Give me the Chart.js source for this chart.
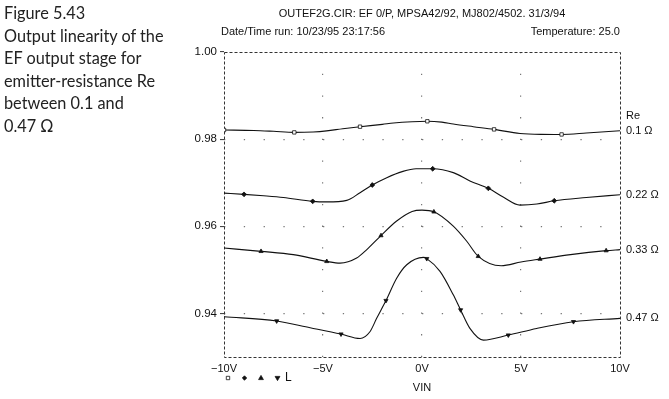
<!DOCTYPE html>
<html>
<head>
<meta charset="utf-8">
<script src="https://cdn.jsdelivr.net/npm/chart.js@4.4.0/dist/chart.umd.min.js"></script>
<style>
html, body { margin: 0; padding: 0; background: #fff; }
#wrap { position: relative; width: 669px; height: 399px; overflow: hidden; }
#c { position: absolute; left: 0; top: 0; }
#caption { position: absolute; left: 4px; top: 2px; font-family: Lato, "Noto Sans", sans-serif; font-size: 16.3px; line-height: 22.6px; color: #222; }
.hdr { position: absolute; font-family: "Liberation Sans", Arial, sans-serif; font-size: 11px; color: #111; white-space: nowrap; }
</style>
</head>
<body>
<div id="wrap">
<canvas id="c" width="669" height="399"></canvas>
<div id="caption">Figure 5.43<br>Output linearity of the<br>EF output stage for<br>emitter-resistance Re<br>between 0.1 and<br>0.47 Ω</div>
<div class="hdr" style="left:222px;width:400px;top:7px;text-align:center">OUTEF2G.CIR: EF 0/P, MPSA42/92, MJ802/4502. 31/3/94</div>
<div class="hdr" style="left:221px;top:25px">Date/Time run: 10/23/95 23:17:56</div>
<div class="hdr" style="right:49px;top:25px">Temperature: 25.0</div>
</div>
<script>
// values (VIN in volts, output gain)
const reLabels = ['0.1 Ω', '0.22 Ω', '0.33 Ω', '0.47 Ω'];

const vin01 = [-10, -8.5, -7.5, -6.45, -5.5, -4.82, -4, -3.13, -2, -1.44, -0.5, 0.27, 1, 1.58, 2.59, 3.64, 4.95, 6, 7.05, 8.3, 10];
const gain01 = [0.9821, 0.9820, 0.9818, 0.98155, 0.98165, 0.9819, 0.9824, 0.98286, 0.9834, 0.98371, 0.9840, 0.9841, 0.9839, 0.98348, 0.98286, 0.98224, 0.9813, 0.9811, 0.98108, 0.9814, 0.98194];
const marks01 = [-10, -6.45, -3.13, 0.27, 3.64, 7.05];

const vin022 = [-10, -8.99, -8, -7, -5.52, -4.8, -3.8, -3.13, -2.51, -1.78, -1, -0.3, 0.54, 1.58, 2.42, 3.35, 4.1, 4.95, 5.8, 6.68, 8.3, 10];
const gain022 = [0.9676, 0.96733, 0.9670, 0.9666, 0.96572, 0.9656, 0.96595, 0.9677, 0.96948, 0.97116, 0.97255, 0.9732, 0.9732, 0.97232, 0.9704, 0.96871, 0.9667, 0.96486, 0.9651, 0.96586, 0.9666, 0.96724];
const marks022 = [-8.99, -5.52, -2.51, 0.54, 3.35, 6.68];

const vin033 = [-10, -8.13, -6.5, -4.81, -4.14, -3.3, -2.8, -2.07, -1.28, -0.5, 0, 0.6, 1.58, 2.26, 2.84, 4.0, 5.0, 5.96, 7.5, 9.3, 10];
const gain033 = [0.9550, 0.95425, 0.95349, 0.95194, 0.95155, 0.9527, 0.9546, 0.95787, 0.9612, 0.9634, 0.9637, 0.96332, 0.96002, 0.95656, 0.9531, 0.95095, 0.9518, 0.95247, 0.9535, 0.95441, 0.95464];
const marks033 = [-8.13, -4.81, -2.07, 0.6, 2.84, 5.96, 9.3];

const vin047 = [-10, -7.34, -5.65, -4.09, -3.13, -2.63, -2.29, -1.82, -1.28, -0.77, 0.07, 0.24, 0.91, 1.58, 1.95, 2.42, 3.1, 4.36, 5.79, 7.65, 10];
const gain047 = [0.93925, 0.93826, 0.93672, 0.93526, 0.93425, 0.9358, 0.93887, 0.94295, 0.94809, 0.95118, 0.95287, 0.95257, 0.94964, 0.94426, 0.9408, 0.93656, 0.93388, 0.93503, 0.93656, 0.9381, 0.93887];
const marks047 = [-7.34, -4.09, -1.82, 0.24, 1.95, 4.36, 7.65];

const xTicks = [-10, -5, 0, 5, 10];
const xTickLabels = ['\u221210V', '\u22125V', '0V', '5V', '10V'];
const yTicks = [0.94, 0.96, 0.98, 1.00];

const series = [
	{ xs: vin01, ys: gain01, marks: marks01, style: 'rect', rot: 0, fill: '#fff' },
	{ xs: vin022, ys: gain022, marks: marks022, style: 'rectRot', rot: 0, fill: '#111' },
	{ xs: vin033, ys: gain033, marks: marks033, style: 'triangle', rot: 0, fill: '#111' },
	{ xs: vin047, ys: gain047, marks: marks047, style: 'triangle', rot: 180, fill: '#111' }
];

const axisFont = { family: '"Liberation Sans", Arial, sans-serif', size: 11 };

function isMark(s, x) {
	return s.marks.indexOf(x) >= 0;
}

const datasets = series.map((s, k) => ({
	label: reLabels[k],
	data: s.xs.map((x, i) => ({ x: x, y: s.ys[i] })),
	borderColor: '#111',
	borderWidth: 1.1,
	cubicInterpolationMode: 'monotone',
	pointStyle: s.style,
	rotation: s.rot,
	pointBackgroundColor: s.fill,
	pointBorderColor: '#111',
	pointBorderWidth: 0.8,
	pointRadius: ctx => isMark(s, s.xs[ctx.dataIndex]) ? 2.4 : 0,
	pointHoverRadius: 0
}));

function drawMarker(ctx, style, rot, fill, x, y) {
	ctx.save();
	ctx.fillStyle = fill;
	ctx.strokeStyle = '#111';
	ctx.lineWidth = 0.8;
	ctx.beginPath();
	if (style === 'rect') {
		ctx.rect(x - 1.7, y - 1.7, 3.4, 3.4);
	} else if (style === 'rectRot') {
		ctx.moveTo(x, y - 2.2); ctx.lineTo(x + 2.2, y); ctx.lineTo(x, y + 2.2); ctx.lineTo(x - 2.2, y);
		ctx.closePath();
	} else {
		let d = rot ? -1 : 1;
		ctx.moveTo(x, y - 2.6 * d); ctx.lineTo(x + 2.4, y + 1.6 * d); ctx.lineTo(x - 2.4, y + 1.6 * d);
		ctx.closePath();
	}
	ctx.fill();
	ctx.stroke();
	ctx.restore();
}

const plotExtras = {
	id: 'plotExtras',
	beforeDatasetsDraw(chart) {
		const a = chart.chartArea, ctx = chart.ctx;
		ctx.save();
		ctx.strokeStyle = '#333';
		ctx.lineWidth = 1;
		ctx.setLineDash([3, 2]);
		ctx.strokeRect(Math.round(a.left) + 0.5, Math.round(a.top) + 0.5, Math.round(a.right - a.left), Math.round(a.bottom - a.top));
		ctx.restore();
	},
	afterDraw(chart) {
		const a = chart.chartArea, ctx = chart.ctx, ys = chart.scales.y;
		ctx.save();
		ctx.fillStyle = '#111';
		ctx.font = '11px "Liberation Sans", Arial, sans-serif';
		ctx.textBaseline = 'middle';
		ctx.textAlign = 'left';
		series.forEach((s, k) => {
			let py = ys.getPixelForValue(s.ys[s.ys.length - 1]);
			ctx.fillText(reLabels[k], a.right + 6, py);
			if (k === 0) ctx.fillText('Re', a.right + 6, py - 15);
		});
		ctx.textAlign = 'center';
		ctx.fillText('VIN', (a.left + a.right) / 2, 388);
		// marker key under the axis
		series.forEach((s, k) => drawMarker(ctx, s.style, s.rot, s.fill, a.left + 4 + k * 16.5, 378));
		ctx.font = '12px "Liberation Sans", Arial, sans-serif';
		ctx.textAlign = 'left';
		ctx.fillText('L', a.left + 61, 378);
		ctx.restore();
	}
};

new Chart(document.getElementById('c'), {
	type: 'line',
	data: { datasets: datasets },
	options: {
		responsive: false,
		animation: false,
		events: [],
		layout: { padding: { top: 52, right: 49, left: 0, bottom: 0 } },
		plugins: { legend: { display: false }, tooltip: { enabled: false } },
		scales: {
			x: {
				type: 'linear',
				min: -10,
				max: 10,
				afterFit: s => { s.height = 42; },
				afterBuildTicks: s => { s.ticks = xTicks.map(v => ({ value: v })); },
				ticks: {
					font: axisFont,
					color: '#111',
					padding: 5,
					maxRotation: 0,
					callback: v => xTickLabels[xTicks.indexOf(v)]
				},
				grid: {
					color: ctx => (ctx.tick && (ctx.tick.value === -10 || ctx.tick.value === 10)) ? 'rgba(0,0,0,0)' : '#777',
					lineWidth: 1.2,
					drawTicks: false
				},
				border: { display: false, dash: [1.3, 20.4] }
			},
			y: {
				type: 'linear',
				min: 0.93,
				max: 1.00,
				afterFit: s => { s.width = 224; },
				afterBuildTicks: s => { s.ticks = yTicks.map(v => ({ value: v })); },
				ticks: {
					font: { family: '"Liberation Sans", Arial, sans-serif', size: 11.5 },
					color: '#111',
					padding: 3,
					callback: v => v.toFixed(2)
				},
				grid: {
					color: ctx => (ctx.tick && ctx.tick.value === 1.00) ? 'rgba(0,0,0,0)' : '#777',
					lineWidth: 1.2,
					drawTicks: true,
					tickLength: 4,
					tickColor: '#333',
					tickWidth: 1
				},
				border: { display: false, dash: [1.3, 18.5] }
			}
		}
	},
	plugins: [plotExtras]
});
</script>
</body>
</html>
